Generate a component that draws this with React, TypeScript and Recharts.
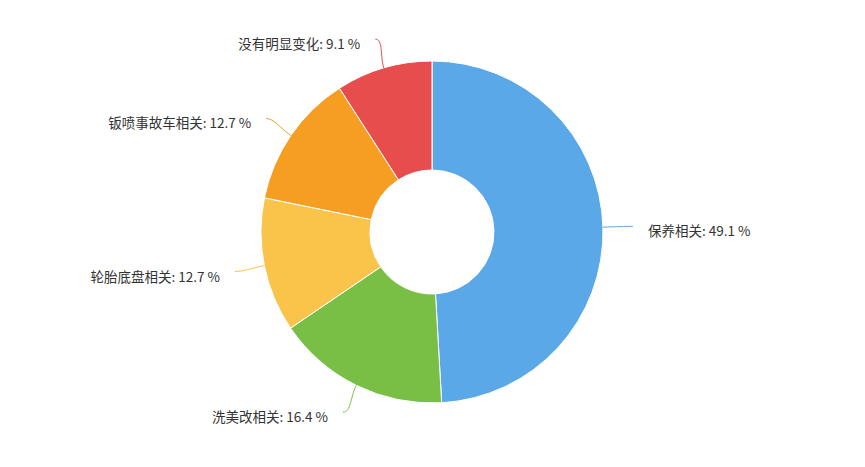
import { PieChart, Pie, Cell } from "recharts";

const names = ["保养相关", "洗美改相关", "轮胎底盘相关", "钣喷事故车相关", "没有明显变化"];
const shares = [49.1, 16.4, 12.7, 12.7, 9.1];
const colors = ["#5ba8e8", "#79bf45", "#fac44a", "#f59e22", "#e84d4e"];

const data = names.map((name, i) => ({ name, value: shares[i] }));

const RAD = Math.PI / 180;

function renderLabel(props: any) {
  const { cx, cy, midAngle, outerRadius, index } = props;
  const cos = Math.cos(-midAngle * RAD);
  const sin = Math.sin(-midAngle * RAD);
  const sx = cx + outerRadius * cos;
  const sy = cy + outerRadius * sin;
  const c1x = cx + (outerRadius + 14) * cos;
  const c1y = cy + (outerRadius + 14) * sin;
  const ex = cx + (outerRadius + 30) * cos;
  const ey = cy + (outerRadius + 30) * sin;
  const right = cos >= 0;
  const c2x = ex + (right ? -8 : 8);
  const c2y = ey;
  const tx = ex + (right ? 15 : -15);
  return (
    <g>
      <path
        d={`M${sx},${sy} C${c1x},${c1y} ${c2x},${c2y} ${ex},${ey}`}
        stroke={colors[index]}
        strokeWidth={1}
        fill="none"
      />
      <text
        x={tx}
        y={ey + 4}
        textAnchor={right ? "start" : "end"}
        dominantBaseline="central"
        fill="#333"
        fontSize={13.5}
        fontFamily="'Noto Sans CJK SC', 'Noto Sans', sans-serif"
      >
        {`${names[index]}: ${shares[index]} %`}
      </text>
    </g>
  );
}

export default function App() {
  return (
    <div style={{ position: "absolute", left: 0, top: 0, width: 865, height: 467, background: "#fff" }}>
      <PieChart width={865} height={467} margin={{ top: 0, right: 0, bottom: 0, left: 0 }}>
        <Pie
          data={data}
          dataKey="value"
          nameKey="name"
          cx={432}
          cy={232}
          innerRadius={62}
          outerRadius={171}
          startAngle={90}
          endAngle={-270}
          stroke="#fff"
          strokeWidth={1}
          label={renderLabel}
          labelLine={false}
          isAnimationActive={false}
        >
          {data.map((d, i) => (
            <Cell key={d.name} fill={colors[i]} />
          ))}
        </Pie>
      </PieChart>
    </div>
  );
}
